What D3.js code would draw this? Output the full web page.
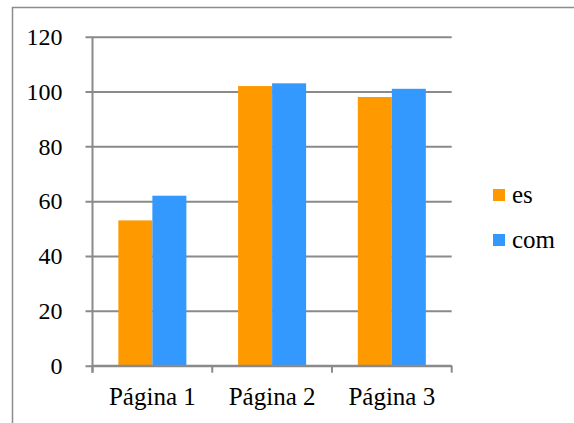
<!DOCTYPE html>
<html>
<head>
<meta charset="utf-8">
<script src="https://cdn.jsdelivr.net/npm/d3@7"></script>
<style>
  html, body { margin: 0; padding: 0; background: #fff; }
  svg { display: block; }
  svg text { font-family: "Liberation Serif", "Times New Roman", serif !important; fill: #000; }
</style>
</head>
<body>
<svg id="chart" width="574" height="423"></svg>
<script>
// Visits per page, split by domain
const categories = ["Página 1", "Página 2", "Página 3"];
const seriesNames = ["es", "com"];
const esValues = [53, 102, 98];
const comValues = [62, 103, 101];
const yTicks = [0, 20, 40, 60, 80, 100, 120];
const colors = ["#FF9900", "#3399FF"];

const svg = d3.select("#chart");
const W = 574, H = 423;

// outer frame (left and top edges visible)
svg.append("path")
  .attr("d", `M12.5,${H} V7.5 H${W}`)
  .attr("fill", "none").attr("stroke", "#8c8c8c").attr("stroke-width", 1.5);

const plot = { left: 92.5, right: 451.7, top: 36.7, bottom: 365.7 };

const x = d3.scaleBand().domain(categories)
  .range([plot.left, plot.right]).paddingInner(0.432).paddingOuter(0.216);
const xs = d3.scaleBand().domain(seriesNames).range([0, x.bandwidth()]);
const y = d3.scaleLinear().domain([0, 120]).range([plot.bottom, plot.top]);

const gridColor = "#8a8a8a";

// horizontal gridlines with left ticks
const yAxis = d3.axisLeft(y).tickValues(yTicks)
  .tickSize(-(plot.right - plot.left)).tickPadding(30).tickFormat(d3.format("d"));
const gy = svg.append("g").attr("transform", `translate(${plot.left},0)`).call(yAxis)
  .attr("font-family", null).attr("font-size", null);
gy.select(".domain").remove();
gy.selectAll(".tick line").attr("stroke", gridColor).attr("stroke-width", 2).attr("x1", -7);
gy.selectAll(".tick text").style("font-size", "24px").attr("fill", "#000");

// bars
const data = categories.map((c, i) => ({ cat: c, vals: [esValues[i], comValues[i]] }));
const groups = svg.append("g").selectAll("g").data(data).join("g")
  .attr("transform", d => `translate(${x(d.cat)},0)`);
groups.selectAll("rect")
  .data(d => d.vals.map((v, j) => ({ name: seriesNames[j], v, color: colors[j] })))
  .join("rect")
  .attr("x", d => xs(d.name))
  .attr("y", d => y(d.v))
  .attr("width", xs.bandwidth())
  .attr("height", d => y(0) - y(d.v))
  .attr("fill", d => d.color);

// vertical axis line
svg.append("line")
  .attr("x1", plot.left).attr("x2", plot.left)
  .attr("y1", plot.top).attr("y2", plot.bottom + 7)
  .attr("stroke", gridColor).attr("stroke-width", 2);

// category axis: baseline, boundary ticks and labels
const step = x.step();
const bounds = d3.range(categories.length + 1).map(i => plot.left + i * step);
svg.append("line")
  .attr("x1", plot.left).attr("x2", plot.right)
  .attr("y1", plot.bottom).attr("y2", plot.bottom)
  .attr("stroke", gridColor).attr("stroke-width", 2);
svg.append("g").selectAll("line").data(bounds).join("line")
  .attr("x1", d => d).attr("x2", d => d)
  .attr("y1", plot.bottom).attr("y2", plot.bottom + 7)
  .attr("stroke", gridColor).attr("stroke-width", 2);
svg.append("g").selectAll("text").data(categories).join("text")
  .attr("x", d => x(d) + x.bandwidth() / 2)
  .attr("y", 405)
  .attr("text-anchor", "middle")
  .style("font-size", "25px")
  .text(d => d);

// legend
const legend = svg.append("g").selectAll("g").data(seriesNames).join("g")
  .attr("transform", (d, i) => `translate(493,${189 + i * 45})`);
legend.append("rect").attr("width", 12).attr("height", 12)
  .attr("fill", (d, i) => colors[i]);
legend.append("text").attr("x", 19).attr("y", 14)
  .style("font-size", "25px").text(d => d);
</script>
</body>
</html>
